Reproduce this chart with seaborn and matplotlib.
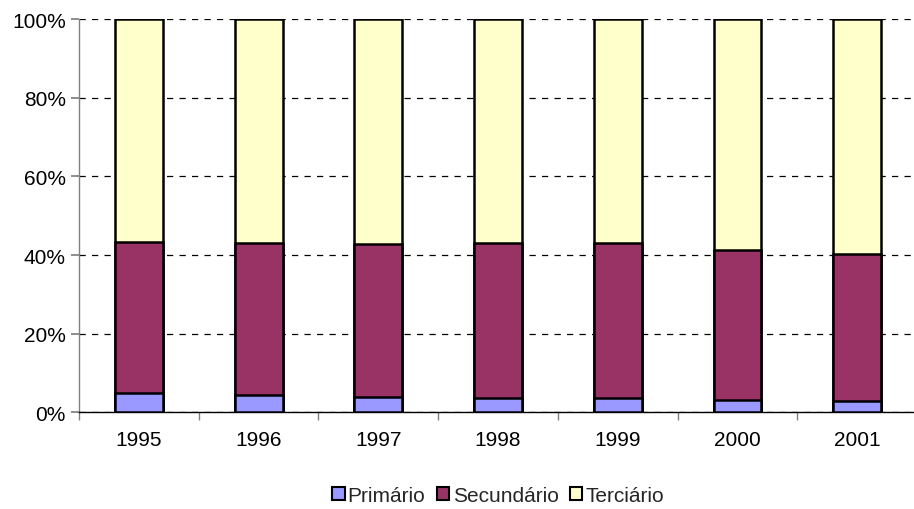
import pandas as pd
import matplotlib
matplotlib.use("Agg")
import matplotlib.pyplot as plt
from matplotlib.patches import Patch
from matplotlib.ticker import FixedLocator
import seaborn as sns

# data (percent shares)
anos = ['1995', '1996', '1997', '1998', '1999', '2000', '2001']
primario = [4.8, 4.4, 3.8, 3.6, 3.5, 3.1, 2.9]
secundario = [38.4, 38.7, 38.9, 39.4, 39.5, 38.2, 37.3]
terciario = [100 - p - s for p, s in zip(primario, secundario)]

cores = {'Primário': '#9999FF', 'Secundário': '#993366', 'Terciário': '#FFFFCC'}

df = pd.DataFrame({'Ano': anos, 'Primário': primario,
                   'Secundário': secundario, 'Terciário': terciario})
df['c1'] = df['Primário']
df['c2'] = df['c1'] + df['Secundário']
df['c3'] = df['c2'] + df['Terciário']

sns.set_theme(style="white")
plt.rcParams['font.family'] = ['Liberation Sans', 'DejaVu Sans']

fig = plt.figure(figsize=(9.14, 5.10), dpi=100)
ax = fig.add_axes([0.0864, 0.19, 0.917, 0.77])

# stacked bars drawn as cumulative totals, tallest first
for col, nome in [('c3', 'Terciário'), ('c2', 'Secundário'), ('c1', 'Primário')]:
    sns.barplot(data=df, x='Ano', y=col, color=cores[nome], saturation=1,
                width=0.4, edgecolor='black', linewidth=1.8, ax=ax, zorder=3)

ax.set_xlim(-0.5, 6.5)
ax.set_ylim(0, 100)
ax.set_xlabel('')
ax.set_ylabel('')
ax.set_yticks([0, 20, 40, 60, 80, 100])
ax.set_yticklabels(['0%', '20%', '40%', '60%', '80%', '100%'])
ax.yaxis.grid(True, linestyle=(0, (5, 5)), color='black', linewidth=0.9)
ax.set_axisbelow(True)

for s in ['top', 'right']:
    ax.spines[s].set_visible(False)
ax.spines['left'].set_color('#808080')
ax.spines['bottom'].set_color('black')
ax.spines['left'].set_linewidth(1)
ax.spines['bottom'].set_linewidth(1)

fs = 15
ax.xaxis.set_minor_locator(FixedLocator([i + 0.5 for i in range(-1, 7)]))
ax.tick_params(axis='x', which='major', length=0, pad=13, labelsize=fs, colors='black')
ax.tick_params(axis='x', which='minor', length=6, color='#808080', direction='out', bottom=True)
ax.tick_params(axis='y', length=6, color='#808080', direction='out', left=True, labelsize=fs, labelcolor='black')

handles = [Patch(facecolor=cores[n], edgecolor='black', linewidth=1.5, label=n) for n in cores]
fig.legend(handles=handles, loc='center', bbox_to_anchor=(0.545, 0.027), ncol=3,
           frameon=False, fontsize=fs, handlelength=0.6, handleheight=0.6,
           handletextpad=0.15, columnspacing=0.55)

fig.savefig('out.png', dpi=100)
